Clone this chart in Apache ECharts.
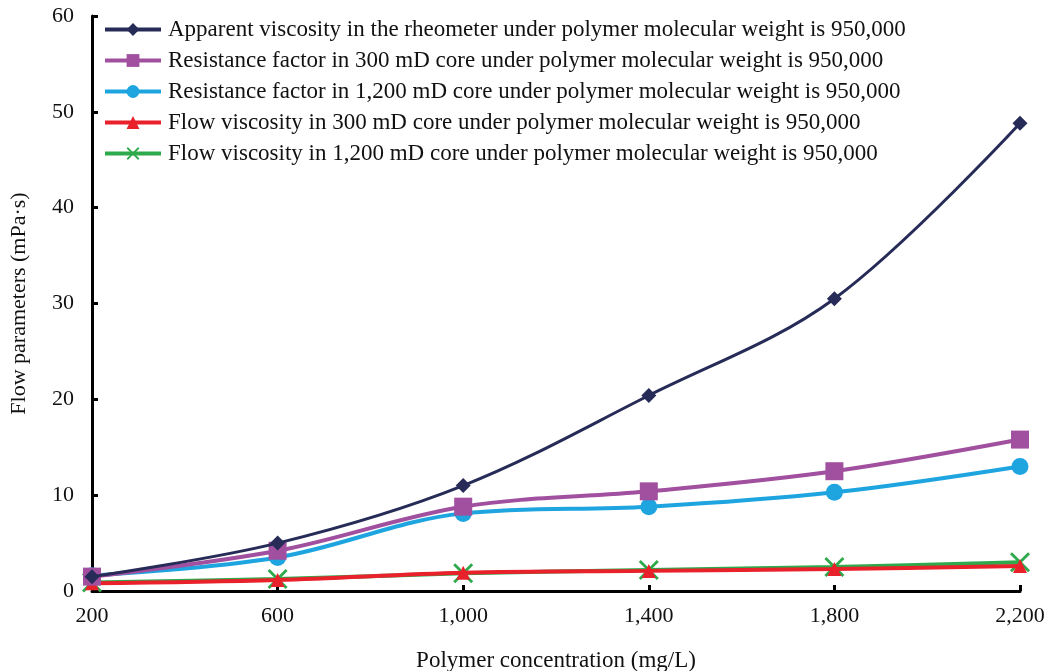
<!DOCTYPE html>
<html><head><meta charset="utf-8">
<script src="https://cdn.jsdelivr.net/npm/echarts@6/dist/echarts.min.js"></script>
<style>html,body{margin:0;padding:0;background:#fff}#c{width:1048px;height:671px}</style>
</head><body><div id="c"></div>
<script>
const concentrations = [200, 600, 1000, 1400, 1800, 2200];
const seriesNames = [
  'Apparent viscosity in the rheometer under polymer molecular weight is 950,000',
  'Resistance factor in 300 mD core under polymer molecular weight is 950,000',
  'Resistance factor in 1,200 mD core under polymer molecular weight is 950,000',
  'Flow viscosity in 300 mD core under polymer molecular weight is 950,000',
  'Flow viscosity in 1,200 mD core under polymer molecular weight is 950,000'
];
const apparentViscosity = [1.5, 5.0, 11.0, 20.4, 30.5, 48.8];
const resistance300 = [1.5, 4.2, 8.8, 10.4, 12.5, 15.8];
const resistance1200 = [1.6, 3.5, 8.1, 8.8, 10.3, 13.0];
const flow300 = [0.8, 1.15, 1.9, 2.1, 2.3, 2.6];
const flow1200 = [0.9, 1.25, 1.85, 2.2, 2.5, 3.0];
const yTicks = [0, 10, 20, 30, 40, 50, 60];

const font = 'Liberation Serif';
const colors = ['#272b57', '#a0509f', '#1ea5e0', '#e8212b', '#2ea94b'];
const symbols = ['diamond', 'rect', 'circle', 'triangle',
  'path://M0,0.1L0.1,0L0.5,0.4L0.9,0L1,0.1L0.6,0.5L1,0.9L0.9,1L0.5,0.6L0.1,1L0,0.9L0.4,0.5Z'];
const sizes = [15, 18, 17, 14, 20];
const widths = [3, 4, 4, 4, 4];
const dataSets = [apparentViscosity, resistance300, resistance1200, flow300, flow1200];

const series = dataSets.map((d, i) => ({
  name: seriesNames[i],
  type: 'line',
  smooth: 0.35,
  data: d.map((v, k) => [concentrations[k], v]),
  symbol: symbols[i],
  symbolSize: sizes[i],
  showAllSymbol: true,
  lineStyle: { color: colors[i], width: widths[i] },
  itemStyle: { color: colors[i] },
  z: 10 - i
}));

const chart = echarts.init(document.getElementById('c'));
chart.setOption({
  animation: false,
  backgroundColor: '#fff',
  grid: { left: 92, right: 28, top: 16, bottom: 80, containLabel: false, outerBoundsMode: 'none' },
  legend: {
    orient: 'vertical',
    left: 98, top: 13,
    itemWidth: 56, itemHeight: 16, itemGap: 8,
    lineStyle: { width: 4 },
    textStyle: { fontFamily: font, fontSize: 23, color: '#111', padding: [0, 0, 0, 2] },
    data: seriesNames
  },
  xAxis: {
    type: 'value', min: 200, max: 2200, interval: 400,
    name: 'Polymer concentration (mg/L)', nameLocation: 'middle', nameGap: 58,
    nameTextStyle: { fontFamily: font, fontSize: 23, color: '#111' },
    axisLine: { lineStyle: { color: '#000', width: 3 } },
    axisTick: { inside: true, length: 6, lineStyle: { color: '#000', width: 3 } },
    axisLabel: { fontFamily: font, fontSize: 22, color: '#111', margin: 14,
      formatter: v => v.toLocaleString('en-US') },
    splitLine: { show: false }
  },
  yAxis: {
    type: 'value', min: yTicks[0], max: yTicks[yTicks.length - 1], interval: 10,
    name: 'Flow parameters (mPa·s)', nameLocation: 'middle', nameGap: 62,
    nameTextStyle: { fontFamily: font, fontSize: 22, color: '#111' },
    axisLine: { show: true, lineStyle: { color: '#000', width: 3 } },
    axisTick: { show: true, inside: true, length: 6, lineStyle: { color: '#000', width: 3 } },
    axisLabel: { fontFamily: font, fontSize: 22, color: '#111', margin: 18 },
    splitLine: { show: false }
  },
  series: series
});
</script></body></html>
